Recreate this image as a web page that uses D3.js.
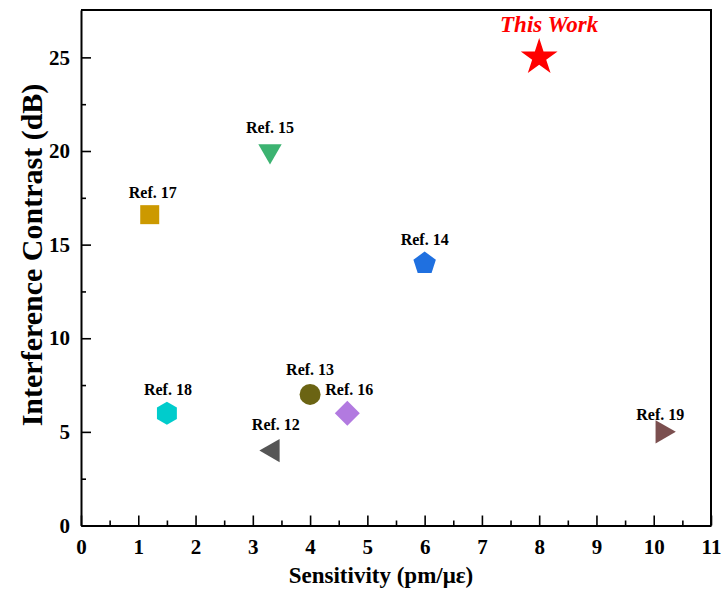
<!DOCTYPE html>
<html>
<head>
<meta charset="utf-8">
<script src="https://cdn.jsdelivr.net/npm/d3@7"></script>
<style>
  body { margin: 0; background: #fff; }
  svg { display: block; font-family: "Liberation Serif", "Times New Roman", serif; }
</style>
</head>
<body>
<svg id="chart" width="721" height="590"></svg>
<script>
// data
const labels = ["This Work", "Ref. 15", "Ref. 17", "Ref. 14", "Ref. 18", "Ref. 13", "Ref. 16", "Ref. 12", "Ref. 19"];
const sensitivity = [8, 3.3, 1.2, 6, 1.5, 4, 4.65, 3.35, 10.15];
const contrast = [25, 20, 16.6, 14, 6, 7, 6, 4, 5];
const xTicks = [0, 1, 2, 3, 4, 5, 6, 7, 8, 9, 10, 11];
const yTicks = [0, 5, 10, 15, 20, 25];

// marker look for each point (same order as labels)
const shapes = ["star", "down", "square", "pentagon", "hexagon", "circle", "diamond", "left", "right"];
const colors = ["#ff0000", "#3cb371", "#cc9900", "#1f70e0", "#00cccc", "#6b6413", "#b27ae0", "#555555", "#7b4f4f"];
const labelDx = [10, 0, 3, 0, 1, 0, 2, 3, -2];
const labelDy = [-25, -18, -17, -18, -18, -19, -18, -21, -12];

const width = 721, height = 590;
const margin = { top: 10, right: 10, bottom: 64.5, left: 81 };

const svg = d3.select("#chart");

const x = d3.scaleLinear()
  .domain([0, 11])
  .range([margin.left, width - margin.right]);

const y = d3.scaleLinear()
  .domain([0, 27.53])
  .range([height - margin.bottom, margin.top]);

// regular polygon path, pointy top
function polygon(n, r, rot) {
  const pts = d3.range(n).map(i => {
    const a = rot + i * 2 * Math.PI / n;
    return [r * Math.sin(a), -r * Math.cos(a)];
  });
  return d3.line()(pts) + "Z";
}

function markerPath(shape) {
  switch (shape) {
    case "star": return d3.symbol(d3.symbolStar, 420)();
    case "square": return d3.symbol(d3.symbolSquare, 361)();
    case "circle": return d3.symbol(d3.symbolCircle, 346)();
    case "diamond": return polygon(4, 12.5, 0);
    case "pentagon": return polygon(5, 11.8, 0);
    case "hexagon": return polygon(6, 11.5, 0);
    case "down": return polygon(3, 13.5, Math.PI);
    case "left": return polygon(3, 13.5, -Math.PI / 2);
    case "right": return polygon(3, 13.5, Math.PI / 2);
  }
}

// x axis (ticks inward)
const xAxis = svg.append("g")
  .attr("transform", `translate(0,${y(0)})`)
  .call(d3.axisBottom(x).tickValues(xTicks).tickSizeInner(-10).tickSizeOuter(0).tickPadding(14));
xAxis.selectAll(".tick text")
  .attr("font-size", 21).attr("font-weight", "bold").attr("fill", "#000")
  .attr("font-family", "Liberation Serif");

svg.append("g")
  .attr("transform", `translate(0,${y(0)})`)
  .call(d3.axisBottom(x).tickValues(d3.range(0.5, 11, 1)).tickSize(-5).tickFormat(""))
  .call(g => g.select(".domain").remove());

// y axis
const yAxis = svg.append("g")
  .attr("transform", `translate(${x(0)},0)`)
  .call(d3.axisLeft(y).tickValues(yTicks).tickSizeInner(-10).tickSizeOuter(0).tickPadding(11));
yAxis.selectAll(".tick text")
  .attr("font-size", 21).attr("font-weight", "bold").attr("fill", "#000")
  .attr("font-family", "Liberation Serif");

svg.append("g")
  .attr("transform", `translate(${x(0)},0)`)
  .call(d3.axisLeft(y).tickValues(d3.range(2.5, 27.5, 5)).tickSize(-5).tickFormat(""))
  .call(g => g.select(".domain").remove());

svg.selectAll(".tick line").attr("stroke", "#000").attr("stroke-width", 1.6);
svg.selectAll(".domain").attr("stroke", "#000").attr("stroke-width", 2);

// top and right frame
svg.append("path")
  .attr("d", `M${x(0)},${y(27.53)}H${x(11)}V${y(0)}`)
  .attr("fill", "none")
  .attr("stroke", "#000")
  .attr("stroke-width", 2);

// markers
svg.append("g")
  .selectAll("path")
  .data(labels)
  .join("path")
  .attr("d", (d, i) => markerPath(shapes[i]))
  .attr("transform", (d, i) => `translate(${x(sensitivity[i])},${y(contrast[i])})`)
  .attr("fill", (d, i) => colors[i]);

// point labels
svg.append("g")
  .selectAll("text")
  .data(labels)
  .join("text")
  .attr("x", (d, i) => x(sensitivity[i]) + labelDx[i])
  .attr("y", (d, i) => y(contrast[i]) + labelDy[i])
  .attr("text-anchor", "middle")
  .attr("font-weight", "bold")
  .attr("font-style", (d, i) => i === 0 ? "italic" : "normal")
  .attr("font-size", (d, i) => i === 0 ? 23 : 16)
  .attr("fill", (d, i) => i === 0 ? "#ff0000" : "#000")
  .text(d => d);

// axis titles
svg.append("text")
  .attr("x", 381)
  .attr("y", 583)
  .attr("text-anchor", "middle")
  .attr("font-size", 23)
  .attr("font-weight", "bold")
  .text("Sensitivity (pm/με)");

svg.append("text")
  .attr("transform", "translate(42,255) rotate(-90)")
  .attr("text-anchor", "middle")
  .attr("font-size", 30)
  .attr("font-weight", "bold")
  .text("Interference Contrast (dB)");
</script>
</body>
</html>
